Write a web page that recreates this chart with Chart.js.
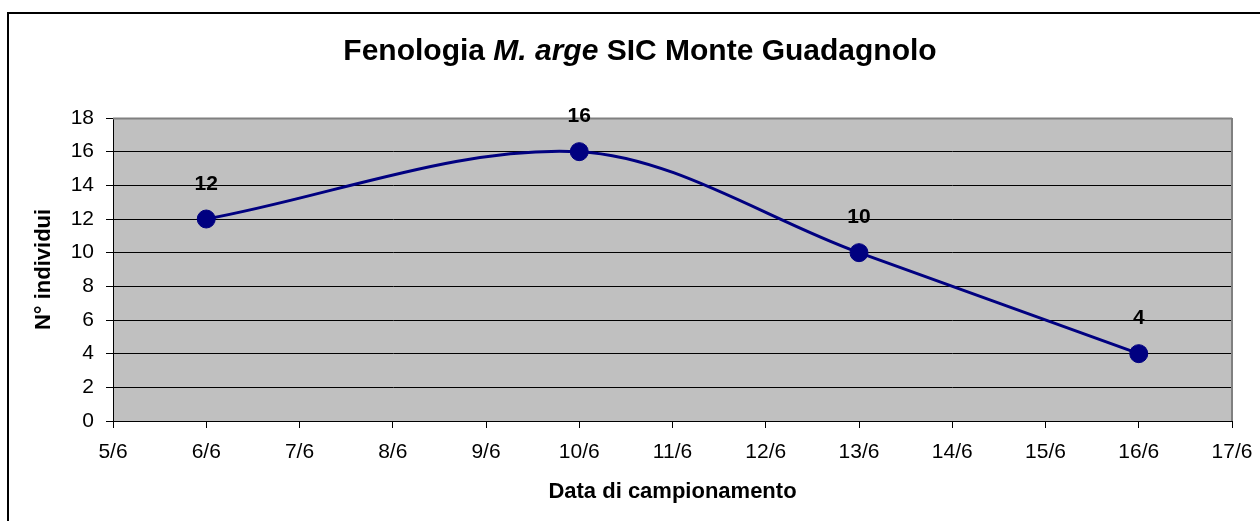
<!DOCTYPE html>
<html>
<head>
<meta charset="utf-8">
<script src="https://cdn.jsdelivr.net/npm/chart.js@4/dist/chart.umd.min.js"></script>
<style>
    html, body { margin: 0; padding: 0; background: #fff; }
    #wrap { width: 1260px; height: 521px; }
</style>
</head>
<body>
<div id="wrap"><canvas id="chart" width="1260" height="521"></canvas></div>
<script>
// Sampling days (June) and counted individuals
const days = [6, 10, 13, 16];
const counts = [12, 16, 10, 4];
const dayRange = [5, 17];
const countRange = [0, 18];

const FONT = "'Liberation Sans', Arial, sans-serif";
const NAVY = '#000080';

// white background, outer frame, grey plot area and its grey top/right edges
const framePlugin = {
    id: 'frame',
    beforeDraw(chart) {
        const ctx = chart.ctx;
        const a = chart.chartArea;
        ctx.save();
        ctx.fillStyle = '#fff';
        ctx.fillRect(0, 0, chart.width, chart.height);
        ctx.strokeStyle = '#000';
        ctx.lineWidth = 2;
        ctx.strokeRect(8, 13, chart.width + 20, chart.height + 20);
        ctx.fillStyle = '#c0c0c0';
        ctx.fillRect(a.left, a.top, a.right - a.left, a.bottom - a.top);
        ctx.restore();
    },
    beforeDatasetsDraw(chart) {
        const ctx = chart.ctx;
        const a = chart.chartArea;
        ctx.save();
        ctx.strokeStyle = '#808080';
        ctx.lineWidth = 2;
        ctx.beginPath();
        ctx.moveTo(a.left, a.top + 0.5);
        ctx.lineTo(a.right, a.top + 0.5);
        ctx.moveTo(a.right, a.top);
        ctx.lineTo(a.right, a.bottom);
        ctx.stroke();
        ctx.restore();
    }
};

// title with the italic species name in the middle
const titlePlugin = {
    id: 'mixedTitle',
    afterDraw(chart) {
        const ctx = chart.ctx;
        const parts = [
            { text: 'Fenologia ', font: 'bold 30px ' + FONT },
            { text: 'M. arge', font: 'italic bold 30px ' + FONT },
            { text: ' SIC Monte Guadagnolo', font: 'bold 30px ' + FONT }
        ];
        ctx.save();
        let total = 0;
        parts.forEach(p => { ctx.font = p.font; p.w = ctx.measureText(p.text).width; total += p.w; });
        let x = 640 - total / 2;
        ctx.fillStyle = '#000';
        ctx.textBaseline = 'middle';
        ctx.textAlign = 'left';
        parts.forEach(p => { ctx.font = p.font; ctx.fillText(p.text, x, 52); x += p.w; });
        ctx.restore();
    }
};

// value labels above each point
const valueLabels = {
    id: 'valueLabels',
    afterDatasetsDraw(chart) {
        const ctx = chart.ctx;
        const meta = chart.getDatasetMeta(0);
        ctx.save();
        ctx.font = 'bold 21px ' + FONT;
        ctx.fillStyle = '#000';
        ctx.textAlign = 'center';
        ctx.textBaseline = 'middle';
        meta.data.forEach((pt, i) => {
            ctx.fillText(String(counts[i]), pt.x, pt.y - 35);
        });
        ctx.restore();
    }
};

new Chart(document.getElementById('chart'), {
    type: 'line',
    data: {
        datasets: [{
            data: days.map((d, i) => ({ x: d, y: counts[i] })),
            borderColor: NAVY,
            backgroundColor: NAVY,
            borderWidth: 3,
            tension: 0.33,
            pointRadius: 9,
            pointBackgroundColor: NAVY,
            pointBorderColor: NAVY,
            pointBorderWidth: 1
        }]
    },
    options: {
        responsive: false,
        animation: false,
        events: [],
        layout: { padding: { left: 8, right: 28, top: 118, bottom: 0 } },
        plugins: {
            legend: { display: false },
            tooltip: { enabled: false }
        },
        scales: {
            x: {
                type: 'linear',
                min: dayRange[0],
                max: dayRange[1],
                afterFit(scale) {
                    scale.height = 100;
                    scale.paddingLeft = 0;
                    scale.paddingRight = 0;
                },
                border: { color: '#000', width: 1 },
                grid: { drawOnChartArea: false, drawTicks: true, tickLength: 7, color: '#000' },
                ticks: {
                    stepSize: 1,
                    padding: 12,
                    color: '#000',
                    font: { family: FONT, size: 21 },
                    callback: v => v + '/6'
                },
                title: {
                    display: true,
                    text: 'Data di campionamento',
                    color: '#000',
                    font: { family: FONT, size: 22, weight: 'bold' },
                    padding: { top: 0, bottom: 16 }
                }
            },
            y: {
                min: countRange[0],
                max: countRange[1],
                afterFit(scale) { scale.width = 105; },
                border: { color: '#000', width: 1 },
                grid: {
                    color: ctx => ctx.tick && ctx.tick.value === countRange[1] ? 'rgba(0,0,0,0)' : '#000',
                    tickColor: '#000',
                    tickLength: 7,
                    lineWidth: 1
                },
                ticks: {
                    stepSize: 2,
                    padding: 12,
                    color: '#000',
                    font: { family: FONT, size: 21 }
                },
                title: {
                    display: true,
                    text: 'N° individui',
                    color: '#000',
                    font: { family: FONT, size: 22, weight: 'bold' },
                    padding: { top: 23, bottom: 0 }
                }
            }
        }
    },
    plugins: [framePlugin, titlePlugin, valueLabels]
});
</script>
</body>
</html>
